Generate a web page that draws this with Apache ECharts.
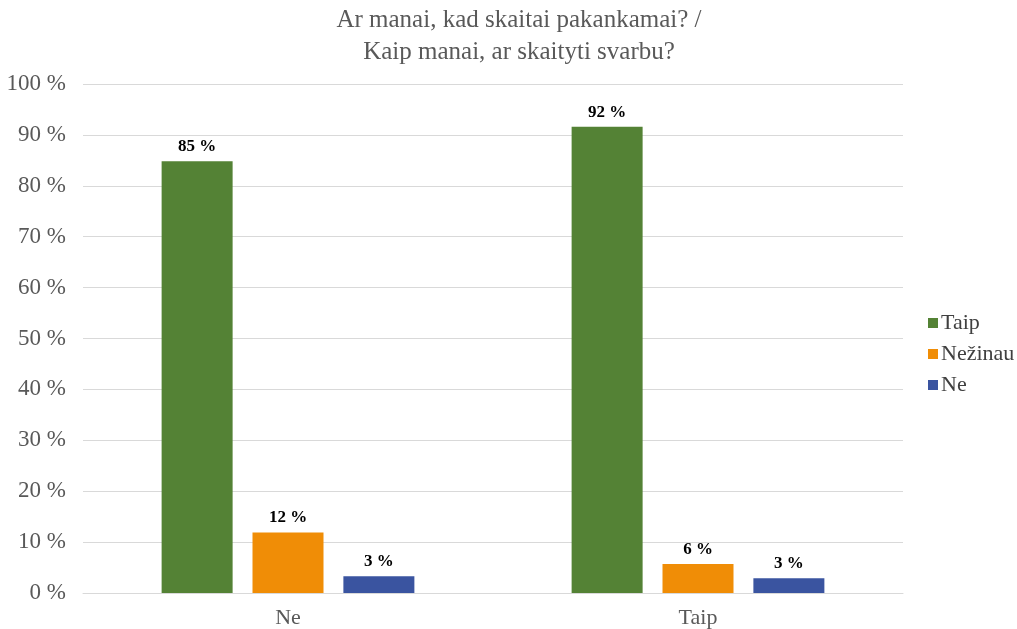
<!DOCTYPE html>
<html>
<head>
<meta charset="utf-8">
<script src="https://cdn.jsdelivr.net/npm/echarts@6/dist/echarts.min.js"></script>
<style>html,body{margin:0;padding:0;background:#fff}#c{width:1017px;height:629px}</style>
</head>
<body>
<div id="c"></div>
<script>
const categories = ['Ne', 'Taip'];
const seriesNames = ['Taip', 'Nežinau', 'Ne'];
const valTaip = [84.8, 91.6];
const valNezinau = [11.9, 5.7];
const valNe = [3.3, 2.9];
const colors = ['#548235', '#F08D06', '#3A54A0'];
const yTicks = [0, 10, 20, 30, 40, 50, 60, 70, 80, 90, 100];

const font = '"Liberation Serif", "Times New Roman", serif';
const chart = echarts.init(document.getElementById('c'), null, {renderer: 'canvas'});
const seriesData = [valTaip, valNezinau, valNe];
chart.setOption({
  animation: false,
  title: {
    text: 'Ar manai, kad skaitai pakankamai? /\nKaip manai, ar skaityti svarbu?',
    left: 514, top: -1, textAlign: 'center',
    textStyle: {fontFamily: font, fontSize: 25, fontWeight: 'normal', color: '#595959', lineHeight: 32}
  },
  legend: {
    orient: 'vertical', left: 923, top: 307, itemGap: 9,
    itemWidth: 10, itemHeight: 10, icon: 'rect',
    textStyle: {fontFamily: font, fontSize: 22, color: '#404040', padding: [0, 0, 0, -2]},
    data: seriesNames
  },
  grid: {left: 83, right: 114, top: 84, bottom: 32, containLabel: false},
  xAxis: {
    type: 'category', data: categories,
    axisLine: {show: true, lineStyle: {color: '#D9D9D9'}},
    axisTick: {show: false},
    axisLabel: {fontFamily: font, fontSize: 22, color: '#595959', margin: 14}
  },
  yAxis: {
    type: 'value', min: 0, max: 100, interval: 10,
    axisLine: {show: false}, axisTick: {show: false},
    splitLine: {lineStyle: {color: '#D9D9D9'}},
    axisLabel: {fontFamily: font, fontSize: 23, color: '#595959', margin: 17,
      formatter: v => yTicks.includes(v) ? v + ' %' : ''}
  },
  series: seriesNames.map((n, i) => ({
    name: n, type: 'bar', data: seriesData[i],
    barWidth: 71, barGap: '28%', barCategoryGap: '40%',
    itemStyle: {color: colors[i]},
    label: {show: true, position: 'top', distance: 6,
      fontFamily: font, fontSize: 17, fontWeight: 'bold', color: '#000',
      formatter: p => Math.round(p.value) + ' %'}
  }))
});
</script>
</body>
</html>
